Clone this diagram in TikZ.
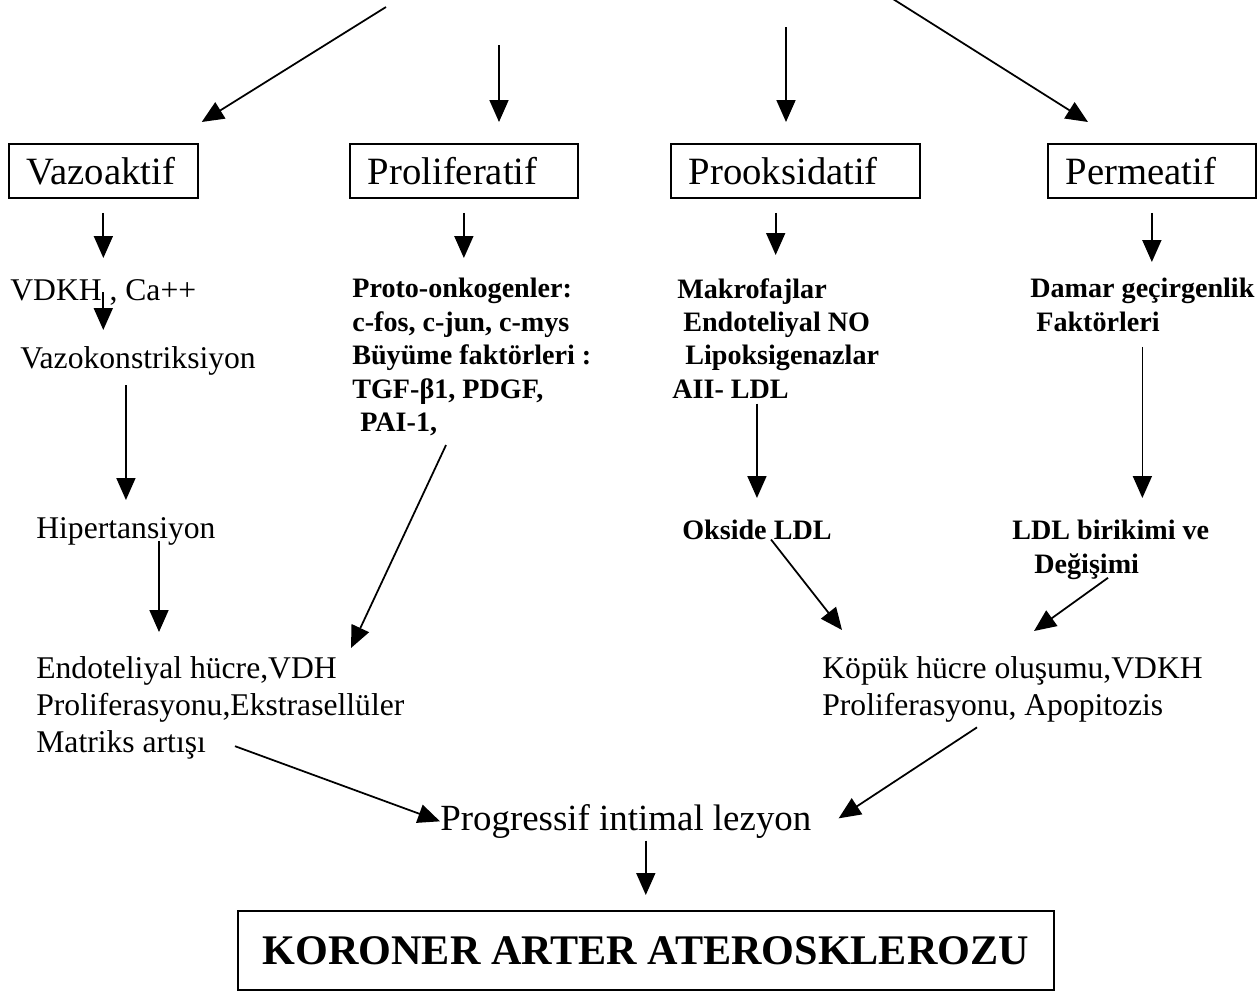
\documentclass[tikz,border=0pt]{standalone}
\usepackage{fontspec}
\setmainfont{Liberation Serif}
\usetikzlibrary{arrows.meta,calc}

\begin{document}
\begin{tikzpicture}[x=0.02cm,y=-0.02cm,
    box/.style={draw,line width=1pt,anchor=north west,inner xsep=0.36cm,inner ysep=0pt,
      minimum height=1.08cm,align=left,font=\fontsize{22}{26}\selectfont},
    reg/.style={anchor=north west,inner sep=0pt,align=left,font=\fontsize{18}{21}\selectfont},
    bld/.style={anchor=north west,inner sep=0pt,align=left,font=\fontsize{16}{19}\selectfont\bfseries},
    arr/.style={line width=1pt,-{Triangle[length=0.44cm,width=0.38cm]}}]
    \useasboundingbox (0,0) rectangle (1257,991);
    %boxes
    \draw (8,143) node[box,text width=3.06cm] (vaz) {Vazoaktif};
    \draw (349,143) node[box,text width=3.84cm] (pro) {Proliferatif};
    \draw (670,143) node[box,text width=4.26cm] (oks) {Prooksidatif};
    \draw (1047,143) node[box,text width=3.44cm] (per) {Permeatif};
    \coordinate (t1) at (386,7);
    \coordinate (t2) at (499,45);
    \coordinate (t3) at (786,27);
    \coordinate (t4) at (893,-1);
    \draw[arr] (t1) -- ($(vaz.north east)+(3,-21)$);
    \draw[arr,shorten >=0.42cm] (t2) -- (t2 |- pro.north);
    \draw[arr,shorten >=0.42cm] (t3) -- (t3 |- oks.north);
    \draw[arr] (t4) -- ($(per.north west)+(41,-21)$);
    %(Vazoaktif)
    \draw (10,279) node[reg] (vdkh) {VDKH , Ca++};
    \draw (20,346) node[reg] (vkons) {Vazokonstriksiyon};
    \draw (36,517) node[reg] (hiper) {Hipertansiyon};
    \draw (36,656) node[reg] (endo) {Endoteliyal hücre,VDH\\Proliferasyonu,Ekstrasellüler\\Matriks artışı};
    \draw[arr,shorten <=0.28cm,shorten >=0.42cm] (vaz.south) -- (vaz.south |- vdkh.north);
    \draw[arr,shorten >=0.32cm] (vdkh.center) -- (vdkh.center |- vkons.north);
    \draw[arr,shorten <=0.2cm,shorten >=0.34cm] (hiper.north |- vkons.south) -- (hiper.north);
    \draw[arr,shorten >=0.48cm] ($(hiper.south west)+(123,-4)$) -- ($(endo.north west)+(123,0)$);
    %(Proliferatif)
    \draw (352,278) node[bld] (onko) {Proto-onkogenler:\\c-fos, c-jun, c-mys\\Büyüme faktörleri :\\TGF-β1, PDGF,\\\hspace*{0.16cm}PAI-1,};
    \draw[arr,shorten <=0.28cm,shorten >=0.4cm] (pro.south) -- (pro.south |- onko.north);
    \draw[arr] ($(onko.south west)+(94,9)$) -- ($(endo.north west)+(315,-8)$);
    %(Prooksidatif)
    \draw (672,278) node[bld] (makro) {\hspace*{0.1cm}Makrofajlar\\\hspace*{0.22cm}Endoteliyal NO\\\hspace*{0.26cm}Lipoksigenazlar\\AII- LDL};
    \draw (682,520) node[bld] (okside) {Okside LDL};
    \draw[arr,shorten <=0.28cm,shorten >=0.46cm] (makro.north |- oks.south) -- (makro.north);
    \draw[arr,shorten <=0.1cm,shorten >=0.44cm] (okside.north |- makro.south) -- (okside.north);
    %(Permeatif)
    \draw (1030,278) node[bld] (damar) {Damar geçirgenlik\\\hspace*{0.12cm}Faktörleri};
    \draw (1012,520) node[bld] (ldlb) {LDL birikimi ve\\\hspace*{0.44cm}Değişimi};
    \draw[arr,shorten <=0.28cm,shorten >=0.32cm] (per.south) -- (per.south |- damar.north);
    \draw[arr,shorten <=0.3cm,shorten >=0.44cm] (damar.south) -- (damar.south |- ldlb.north);
    %(Kopuk hucre)
    \draw (822,656) node[reg] (kopuk) {Köpük hücre oluşumu,VDKH\\Proliferasyonu, Apopitozis};
    \draw[arr] ($(okside.south west)+(89,-1)$) -- ($(kopuk.north west)+(20,-26)$);
    \draw[arr] ($(ldlb.south west)+(96,-2)$) -- ($(kopuk.north west)+(212,-25)$);
    %(lezyon)
    \draw (440,804) node[anchor=north west,inner sep=0pt,font=\fontsize{21}{25}\selectfont] (prog) {Progressif intimal lezyon};
    \draw (237,910) node[draw,line width=1pt,anchor=north west,minimum width=16.32cm,minimum height=1.58cm,
      font=\fontsize{24}{28}\selectfont\bfseries] (kah) {KORONER ARTER ATEROSKLEROZU};
    \draw[arr] ($(endo.south west)+(199,-13)$) -- (prog.west);
    \draw[arr] ($(kopuk.south west)+(155,5)$) -- ($(prog.east)+(27,-3)$);
    \draw[arr,shorten <=0.04cm,shorten >=0.3cm] (kah.north |- prog.south) -- (kah.north);
\end{tikzpicture}
\end{document}
